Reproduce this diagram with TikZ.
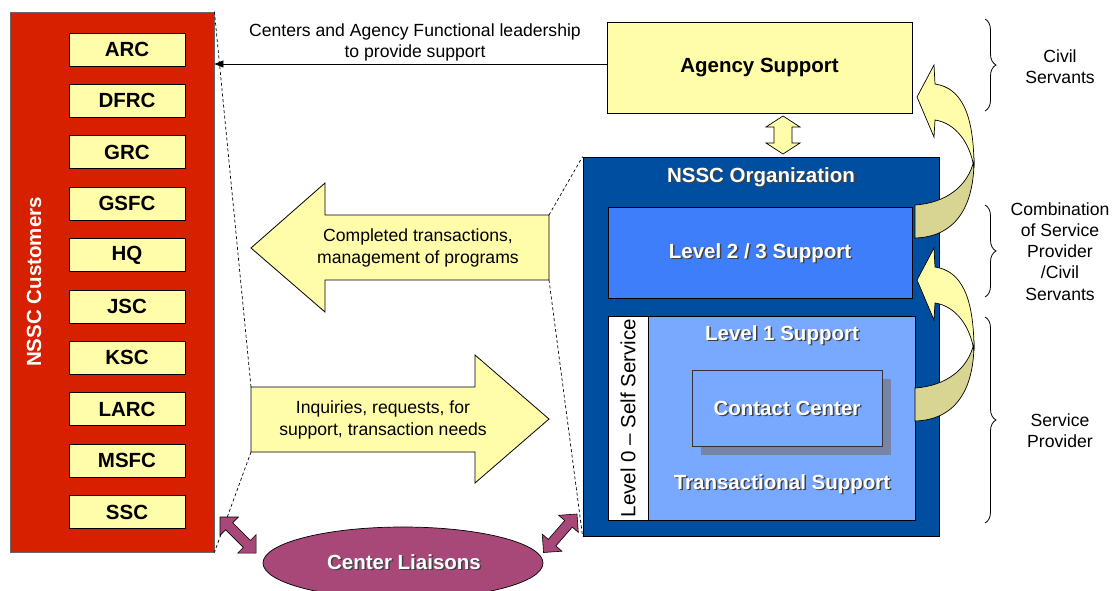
\documentclass[tikz,border=0pt]{standalone}
\usepackage{fontspec}
\setmainfont{Liberation Sans}
\usetikzlibrary{arrows.meta,decorations.pathreplacing,shapes.geometric}
\definecolor{custred}{RGB}{214,32,0}
\definecolor{paleyel}{RGB}{255,252,170}
\definecolor{orgblue}{RGB}{0,78,160}
\definecolor{lvtwo}{RGB}{62,126,250}
\definecolor{lvone}{RGB}{120,168,255}
\definecolor{liais}{RGB}{168,72,120}
\definecolor{backyel}{RGB}{216,212,146}
\definecolor{ccshade}{RGB}{120,132,165}
\newcommand\shtxt[5]{%
  \node[#1,text=black!75] at (#2+1.5,#3+1.5) {#5};
  \node[#1,text=white] (#4) at (#2,#3) {#5};}
\newcommand\curvedup[1]{%
  \begin{scope}[shift={(0,#1)}]
    \filldraw[fill=backyel,draw=black,line width=0.7pt]
      (915,238) .. controls (953,237) and (974,210) .. (974,160)
      .. controls (968,187) and (945,203) .. (915,205) -- cycle;
    \filldraw[fill=paleyel,draw=black,line width=0.7pt]
      (974,168) .. controls (974,115) and (962,88) .. (935,84)
      -- (934,65) -- (917,97) -- (934,137) -- (935,120)
      .. controls (955,123) and (970,142) .. (974,168) -- cycle;
  \end{scope}}
\newcommand\magarrow[3]{%
  \begin{scope}[shift={(#1,#2)},rotate=#3]
    \filldraw[fill=liais,draw=black,line width=0.6pt]
      (0,0) -- (13,13) -- (13,5) -- (38,5) -- (38,13) -- (51,0)
      -- (38,-13) -- (38,-5) -- (13,-5) -- (13,-13) -- cycle;
  \end{scope}}
\begin{document}
\begin{tikzpicture}[x=1pt,y=-1pt,
  bigbold/.style={font=\fontsize{20.5}{24}\selectfont\bfseries},
  normal/.style={font=\fontsize{17.6}{21.2}\selectfont},
  box/.style={rectangle,draw=black,line width=0.8pt,inner sep=0pt},
  custbox/.style={box,fill=paleyel,minimum width=116pt,minimum height=33pt,bigbold},
  blockarrow/.style={fill=paleyel,draw=black,line width=0.8pt},
  dashline/.style={draw=black,line width=0.7pt,dash pattern=on 3pt off 2.5pt},
  bracestyle/.style={decorate,decoration={brace,amplitude=11pt},line width=0.8pt}
]
\useasboundingbox (0,0) rectangle (1112,590);

% customers
\node[box,draw=black!60,fill=custred,minimum width=204pt,minimum height=540pt] (cust) at (112,282) {};
\node[bigbold,text=white,rotate=90] (custlbl) at (34,282) {NSSC Customers};
\foreach \nm [count=\i from 0] in {ARC,DFRC,GRC,GSFC,HQ,JSC,KSC,LARC,MSFC,SSC}
  \node[custbox] (c\i) at (127,49.5+51.4*\i) {\nm};

% agency
\node[box,fill=paleyel,minimum width=305pt,minimum height=91pt,bigbold] (agency) at (759.5,67.5) {Agency Support};
\coordinate (aw) at ([yshift=3.5pt]agency.west);
\draw[line width=0.8pt,-{Triangle[length=9pt,width=7pt]}] (aw) -- (aw -| cust.east);
\node[normal,align=center] (leadlbl) at (415,42.5) {Centers and Agency Functional leadership\\to provide support};

% organisation
\node[box,fill=orgblue,minimum width=356pt,minimum height=379pt] (org) at (761,346.5) {};
\shtxt{bigbold}{761}{177}{orglbl}{NSSC Organization}
\node[box,fill=lvtwo,minimum width=304pt,minimum height=91pt] (lvtt) at (760,252.5) {};
\shtxt{bigbold}{760}{253}{lvttlbl}{Level 2 / 3 Support}
\node[box,fill=white,minimum width=40pt,minimum height=204pt] (lvz) at (628,418) {};
\node[font=\fontsize{20.5}{24}\selectfont,rotate=90] (lvzlbl) at (628,418) {Level 0 -- Self Service};
\node[box,fill=lvone,minimum width=267pt,minimum height=204pt] (lvo) at (781.5,418) {};
\shtxt{bigbold}{782}{335}{lvolbl}{Level 1 Support}
\fill[ccshade] (701,379) rectangle (891,455);
\node[box,draw=black!80,fill=lvone,minimum width=190pt,minimum height=76pt] (cc) at (787,408) {};
\shtxt{bigbold}{787}{408}{cclbl}{Contact Center}
\shtxt{bigbold}{782}{484}{trlbl}{Transactional Support}

% double arrow agency <-> org
\filldraw[blockarrow,line width=0.7pt] (783,116) -- (800,127) -- (792,127) -- (792,143) -- (800,143)
  -- (783,154) -- (766,143) -- (774,143) -- (774,127) -- (766,127) -- cycle;

% big block arrows
\filldraw[blockarrow] (251,248) -- (325,183) -- (325,215) -- (549,215) -- (549,280)
  -- (325,280) -- (325,312) -- cycle;
\coordinate (outtr) at (549,215);
\coordinate (outbr) at (549,280);
\node[normal,align=center] (outlbl) at (418,248) {Completed transactions,\\management of programs};
\filldraw[blockarrow] (251,387) -- (475,387) -- (475,355) -- (549,419) -- (475,483)
  -- (475,452) -- (251,452) -- cycle;
\coordinate (intl) at (251,387);
\coordinate (inbl) at (251,452);
\node[normal,align=center] (inlbl) at (383,420) {Inquiries, requests, for\\support, transaction needs};

% dashed guide lines
\draw[dashline] (cust.north east) -- (intl);
\draw[dashline] (inbl) -- (cust.south east);
\draw[dashline] (outtr) -- (org.north west);
\draw[dashline] (outbr) -- (org.south west);

% center liaisons
\node[ellipse,draw=black,line width=0.7pt,fill=liais,minimum width=280pt,minimum height=72pt,inner sep=0pt] (liaison) at (403,563) {};
\shtxt{bigbold}{404}{562}{liaisonlbl}{Center Liaisons}
\magarrow{220}{517}{-45}
\magarrow{577}{514}{-131}

% curved arrows
\curvedup{0}
\curvedup{183}

% braces
\draw[bracestyle] (985,19) -- (985,111);
\draw[bracestyle] (985,205) -- (985,297);
\draw[bracestyle] (985,317) -- (985,523);
\node[normal,align=center] (civil) at (1060,67) {Civil\\Servants};
\node[normal,align=center] (combo) at (1060,251.5) {Combination\\of Service\\Provider\\/Civil\\Servants};
\node[normal,align=center] (provider) at (1060,431) {Service\\Provider};
\end{tikzpicture}
\end{document}
